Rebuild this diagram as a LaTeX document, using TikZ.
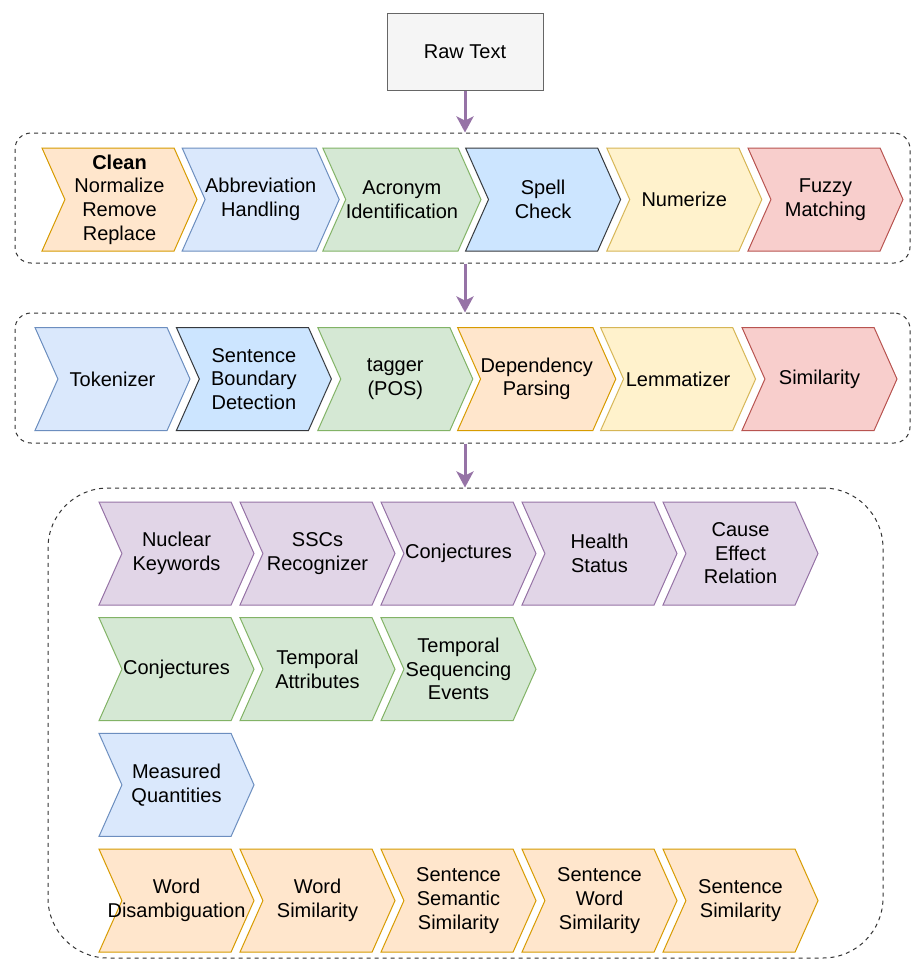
\documentclass[tikz,border=0pt]{standalone}
\usepackage{fontspec}
\setmainfont{Liberation Sans}
\usetikzlibrary{shapes.symbols,arrows.meta}
\definecolor{orgfill}{HTML}{FFE6CC}\definecolor{orgline}{HTML}{D79B00}
\definecolor{bluefill}{HTML}{DAE8FC}\definecolor{blueline}{HTML}{6C8EBF}
\definecolor{spellfill}{HTML}{CCE5FF}\definecolor{spellline}{HTML}{36393D}
\definecolor{grnfill}{HTML}{D5E8D4}\definecolor{grnline}{HTML}{82B366}
\definecolor{yelfill}{HTML}{FFF2CC}\definecolor{yelline}{HTML}{D6B656}
\definecolor{redfill}{HTML}{F8CECC}\definecolor{redline}{HTML}{B85450}
\definecolor{purfill}{HTML}{E1D5E7}\definecolor{purline}{HTML}{9673A6}
\definecolor{grayfill}{HTML}{F5F5F5}\definecolor{grayline}{HTML}{666666}
\tikzset{
  chev/.style={signal,signal to=east,signal from=west,signal pointer angle=132,
    minimum width=77.5pt,minimum height=51.5pt,inner sep=0pt,align=center,
    line width=0.5pt,font=\fontsize{10}{11.8}\selectfont},
  orgchev/.style={chev,fill=orgfill,draw=orgline},
  bluechev/.style={chev,fill=bluefill,draw=blueline},
  spellchev/.style={chev,fill=spellfill,draw=spellline},
  grnchev/.style={chev,fill=grnfill,draw=grnline},
  yelchev/.style={chev,fill=yelfill,draw=yelline},
  redchev/.style={chev,fill=redfill,draw=redline},
  purchev/.style={chev,fill=purfill,draw=purline},
  group/.style={draw=black!80,fill=white,line width=0.5pt,dash pattern=on 2pt off 2pt,
    inner sep=0pt},
  flow/.style={draw=purline,line width=1.5pt,-{Stealth[length=8pt,width=8.5pt,inset=2pt]}}
}
\begin{document}
\begin{tikzpicture}[x=0.5pt,y=-0.5pt]
\useasboundingbox[fill=white] (0,0) rectangle (912,960);
% groups
\node (g1) at (462.5,198) [group,rounded corners=8pt,minimum width=447.5pt,minimum height=65pt] {};
\node (g2) at (462.5,378) [group,rounded corners=8pt,minimum width=447.5pt,minimum height=65pt] {};
\node (g3) at (465.5,723) [group,rounded corners=30pt,minimum width=417.5pt,minimum height=235pt] {};
% input
\node (raw) at (465,51.5) [draw=grayline,fill=grayfill,line width=0.5pt,minimum width=78pt,minimum height=38.5pt,
  font=\fontsize{10}{11.8}\selectfont] {Raw Text};
\draw[flow] (raw) -- (g1.north -| raw);
\draw[flow] (g1.south -| raw) -- (g2.north -| raw);
\draw[flow] (g2.south -| raw) -- (g3.north -| raw);
% preprocessing
\node (clean) at (119.5,199.5) [orgchev] {\textbf{Clean}\\Normalize\\Remove\\Replace};
\node (abbr) at (260.7,199.5) [bluechev] {Abbreviation\\Handling};
\node (acro) at (401.9,199.5) [grnchev] {Acronym\\Identification};
\node (spell) at (543.1,199.5) [spellchev] {Spell\\Check};
\node (num) at (684.3,199.5) [yelchev] {Numerize};
\node (fuzzy) at (825.5,199.5) [redchev] {Fuzzy\\Matching};
% core nlp
\node (tok) at (112.5,379) [bluechev] {Tokenizer};
\node (sbd) at (253.9,379) [spellchev] {Sentence\\Boundary\\Detection};
\node (pos) at (395.3,379) [grnchev] {tagger\\(POS)};
\node (dep) at (536.7,379) [orgchev] {Dependency\\Parsing};
\node (lem) at (678.1,379) [yelchev] {Lemmatizer};
\node (sim) at (819.5,379) [redchev] {Similarity};
% domain modules
\node (nuc) at (176.5,553.5) [purchev] {Nuclear\\Keywords};
\node (ssc) at (317.5,553.5) [purchev] {SSCs\\Recognizer};
\node (conj) at (458.5,553.5) [purchev] {Conjectures};
\node (health) at (599.5,553.5) [purchev] {Health\\Status};
\node (cause) at (740.5,553.5) [purchev] {Cause\\Effect\\Relation};
\node (conj2) at (176.5,669.2) [grnchev] {Conjectures};
\node (tattr) at (317.5,669.2) [grnchev] {Temporal\\Attributes};
\node (tseq) at (458.5,669.2) [grnchev] {Temporal\\Sequencing\\Events};
\node (meas) at (176.5,784.9) [bluechev] {Measured\\Quantities};
\node (wdis) at (176.5,900.6) [orgchev] {Word\\\makebox[0pt]{Disambiguation}};
\node (wsim) at (317.5,900.6) [orgchev] {Word\\Similarity};
\node (ssem) at (458.5,900.6) [orgchev] {Sentence\\Semantic\\Similarity};
\node (swrd) at (599.5,900.6) [orgchev] {Sentence\\Word\\Similarity};
\node (ssim) at (740.5,900.6) [orgchev] {Sentence\\Similarity};
\end{tikzpicture}
\end{document}
